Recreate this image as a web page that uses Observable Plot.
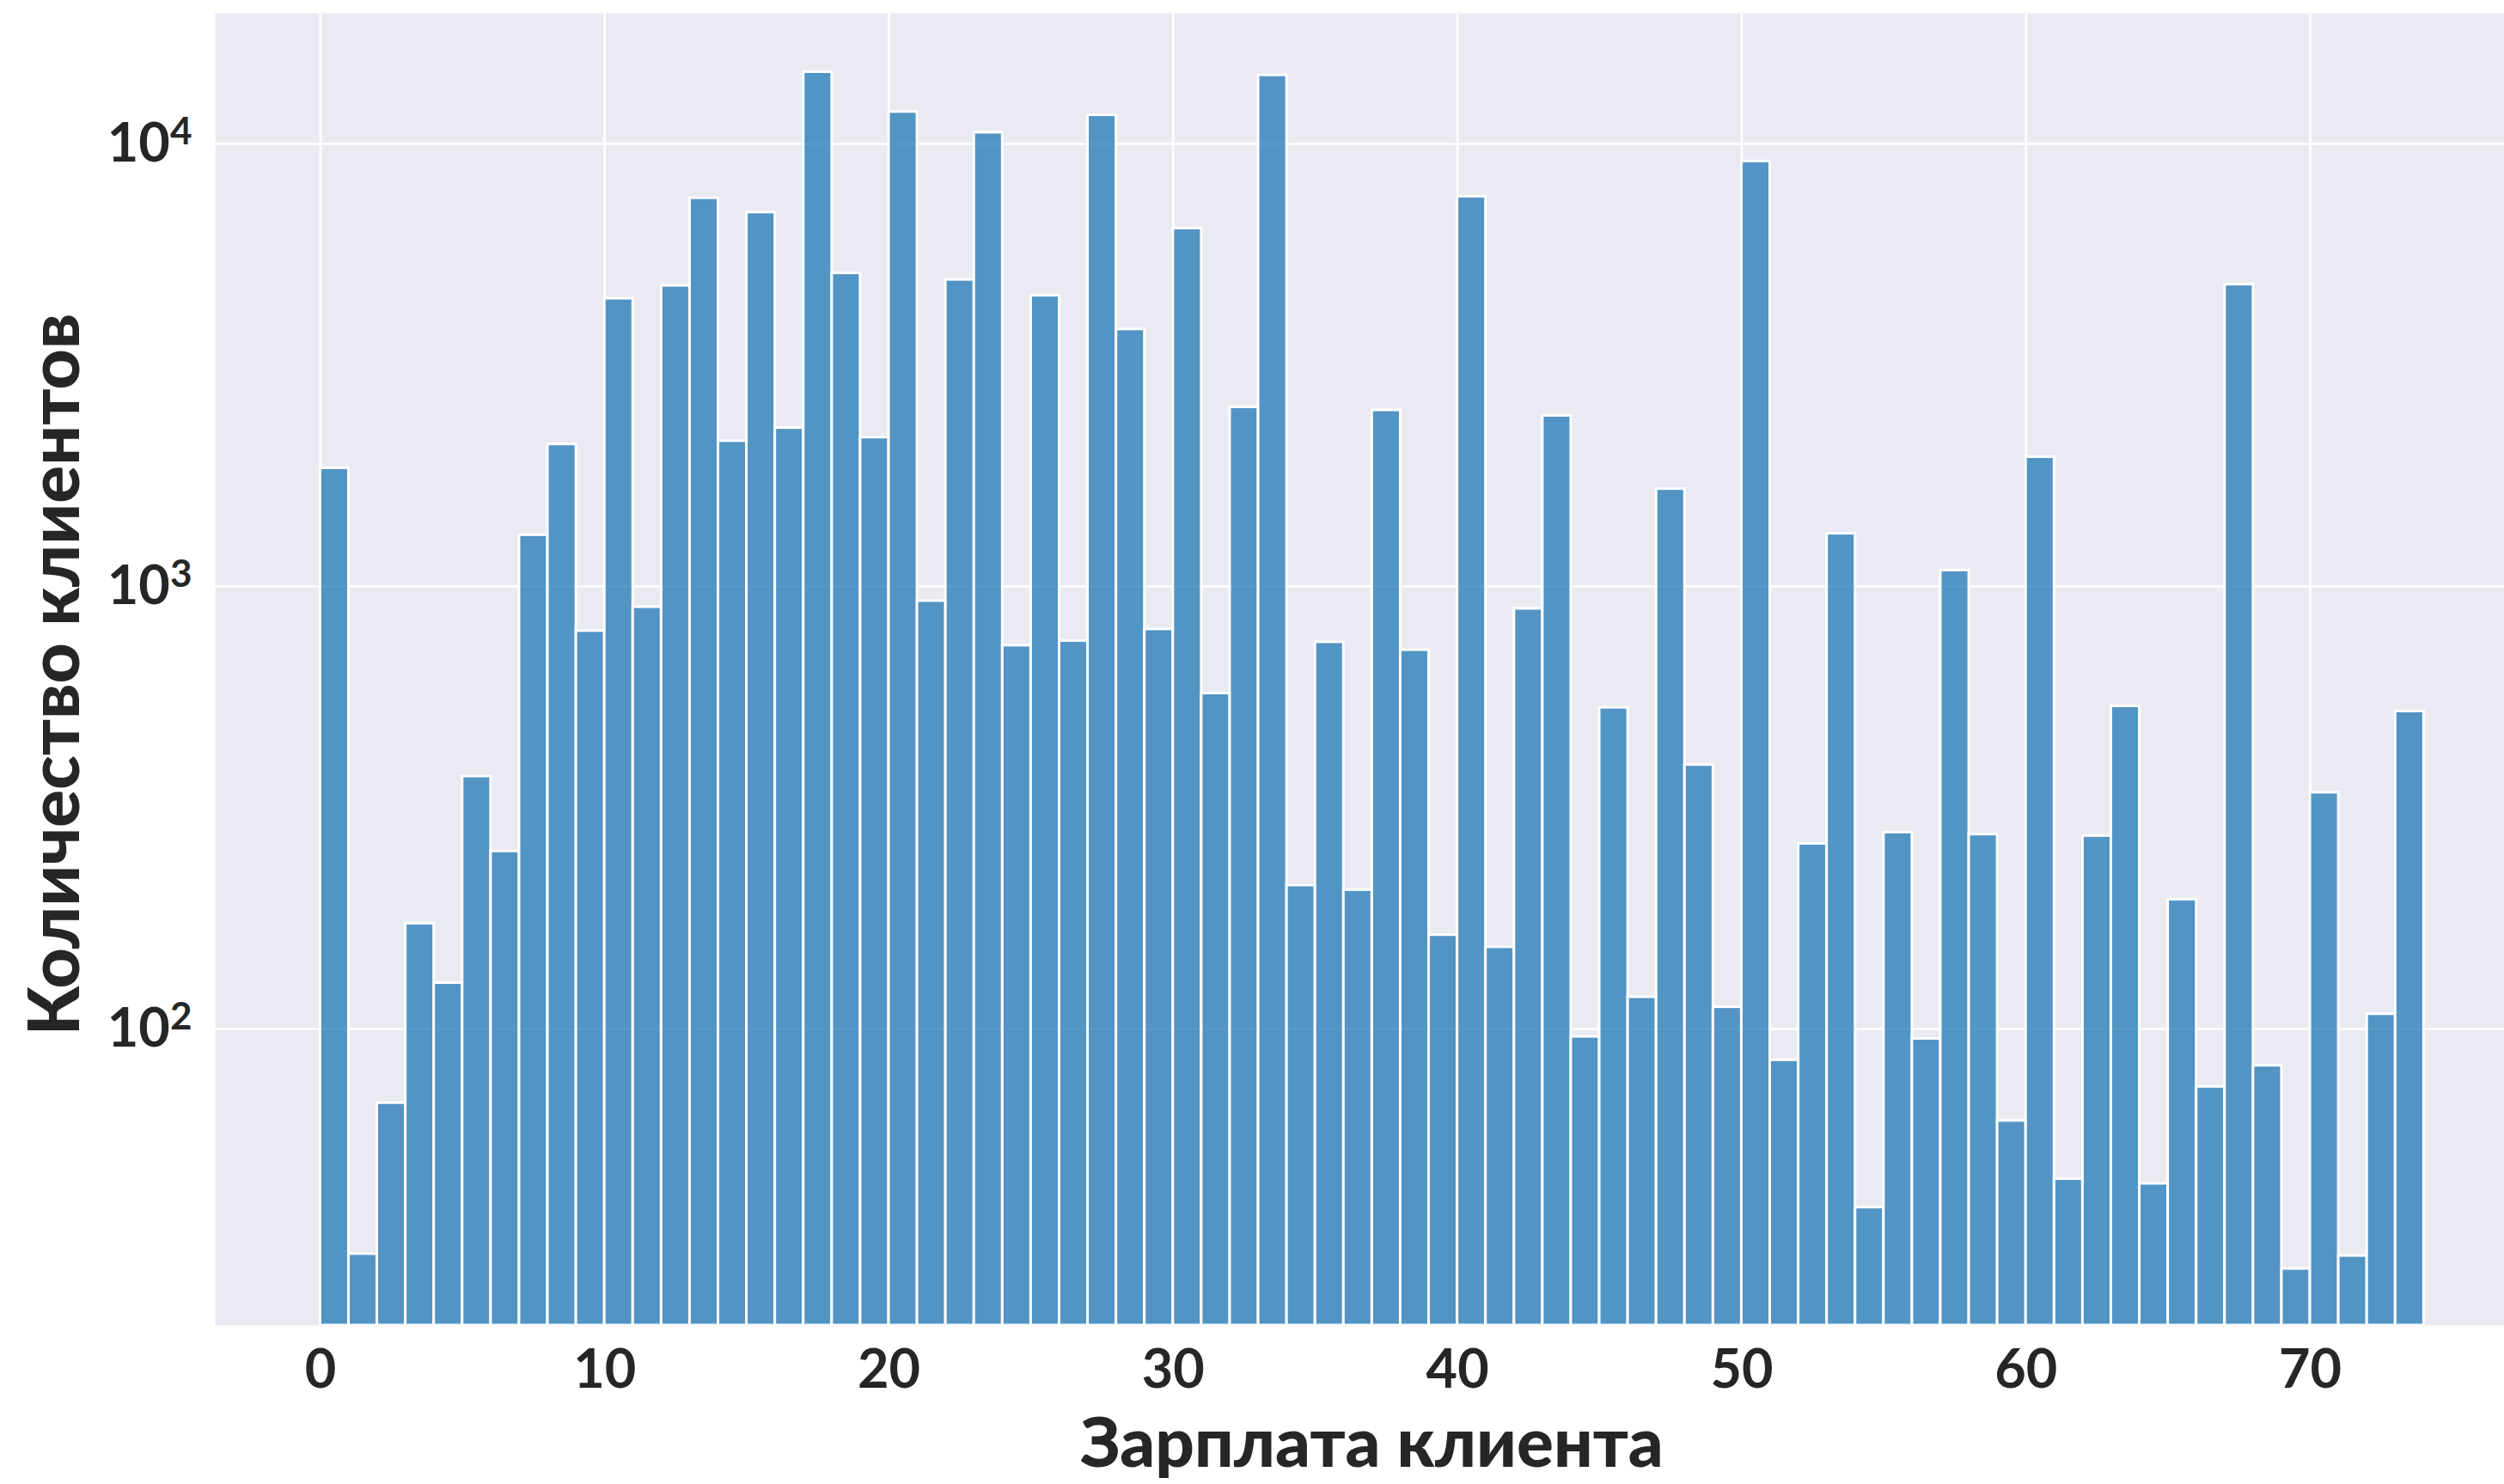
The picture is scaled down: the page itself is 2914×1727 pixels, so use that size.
<!DOCTYPE html>
<html>
<head>
<meta charset="utf-8">
<script src="https://cdn.jsdelivr.net/npm/d3@7"></script>
<script src="https://cdn.jsdelivr.net/npm/@observablehq/plot@0.6"></script>
<style>
  html, body { margin: 0; padding: 0; background: #fff; overflow: hidden; }
</style>
</head>
<body>
<div id="chart"></div>
<script>
// Bin left edges (salary), bin width 1
const binStarts = [0,1,2,3,4,5,6,7,8,9,10,11,12,13,14,15,16,17,18,19,20,21,22,23,24,25,26,27,28,29,30,31,32,33,34,35,36,37,38,39,40,41,42,43,44,45,46,47,48,49,50,51,52,53,54,55,56,57,58,59,60,61,62,63,64,65,66,67,68,69,70,71,72,73];
// Number of clients per bin
const counts = [1850,31,68,173,127,372,252,1306,2094,793,
                4470,898,4780,7540,2130,7000,2280,14530,5100,2170,
                11810,927,4930,10600,735,4540,753,11610,3810,800,
                6440,573,2540,14290,211,748,206,2500,718,163,
                7600,153,890,2430,96,532,118,1660,395,112,
                9130,85,262,1316,39.5,278,95,1087,275,62,
                1960,45.8,273,536,44.7,196,74,4810,82.6,28.7,
                342,30.7,108,522];
const xTicks = [0,10,20,30,40,50,60,70];
const yTicks = [100,1000,10000];
const xLabel = "Зарплата клиента";
const yLabel = "Количество клиентов";

const yMin = 21.38, yMax = 19730;
const bins = binStarts.map((x, i) => ({x1: x, x2: x + 1, count: counts[i]}));

const font = "Lato, 'Open Sans', sans-serif";
const ink = "#262626";

const chart = Plot.plot({
  width: 2914,
  height: 1727,
  marginLeft: 250,
  marginRight: 0,
  marginTop: 15,
  marginBottom: 185,
  style: {background: "#fff", fontFamily: font, color: ink},
  x: {domain: [-3.7, 76.83], label: null},
  y: {type: "log", domain: [yMin, yMax], label: null},
  marks: [
    Plot.frame({fill: "#EAEAF2", stroke: null}),
    Plot.gridX(xTicks, {stroke: "#fff", strokeOpacity: 1, strokeWidth: 2.8}),
    Plot.gridY(yTicks, {stroke: "#fff", strokeOpacity: 1, strokeWidth: 2.8}),
    Plot.rect(bins, {
      x1: "x1", x2: "x2", y1: () => yMin, y2: "count",
      fill: "#1f77b4", fillOpacity: 0.75,
      stroke: "#fff", strokeWidth: 3
    }),
    Plot.axisX(xTicks, {
      tickSize: 0, tickPadding: 28, fontSize: 63, fontWeight: 700,
      fill: ink, fontFamily: font
    }),
    Plot.axisY(yTicks, {
      tickSize: 0, tickPadding: 27, fontSize: 63, fontWeight: 700,
      fill: ink, fontFamily: font,
      tickFormat: d => "10^" + Math.round(Math.log10(d))
    }),
    Plot.text([xLabel], {
      text: d => d, frameAnchor: "bottom", dx: 14, dy: 139,
      textAnchor: "middle", lineAnchor: "middle",
      fontSize: 80, fontWeight: 900, fill: ink, fontFamily: font
    }),
    Plot.text([yLabel], {
      text: d => d, frameAnchor: "left", dx: -185, dy: 6, rotate: -90,
      textAnchor: "middle", lineAnchor: "middle",
      fontSize: 82, fontWeight: 900, fill: ink, fontFamily: font
    })
  ]
});

// Render y tick labels as 10 with superscript exponent
chart.querySelectorAll('g[aria-label="y-axis tick label"] text').forEach(t => {
  const s = t.textContent;
  const m = s.match(/^10\^(\d+)$/);
  if (!m) return;
  t.textContent = "";
  const ns = "http://www.w3.org/2000/svg";
  const base = document.createElementNS(ns, "tspan");
  base.textContent = "10";
  const sup = document.createElementNS(ns, "tspan");
  sup.textContent = m[1];
  sup.setAttribute("dy", "-0.45em");
  sup.setAttribute("font-size", "0.7em");
  t.appendChild(base);
  t.appendChild(sup);
});

document.getElementById("chart").appendChild(chart);
</script>
</body>
</html>
